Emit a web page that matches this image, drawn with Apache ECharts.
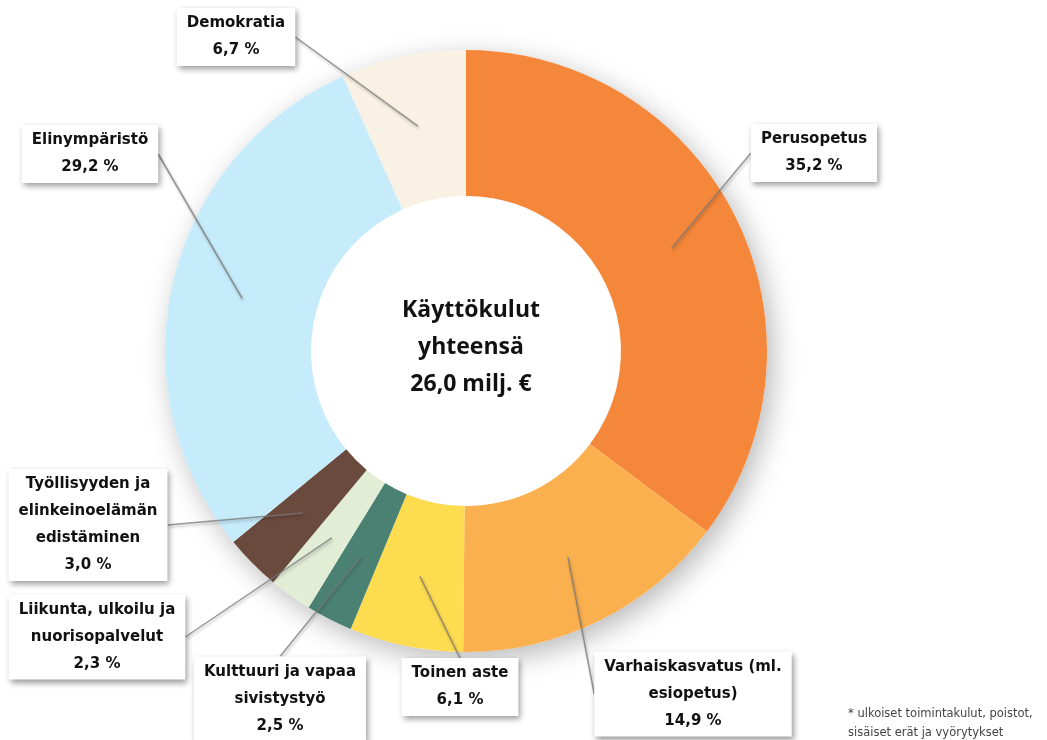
<!DOCTYPE html>
<html>
<head>
<meta charset="utf-8">
<script src="https://cdn.jsdelivr.net/npm/echarts@6/dist/echarts.min.js"></script>
<style>
  html, body { margin: 0; padding: 0; background: #fff; }
  #chart { width: 1047px; height: 740px; }
</style>
</head>
<body>
<div id="chart"></div>
<script>
var names = [
    'Perusopetus',
    'Varhaiskasvatus (ml.\nesiopetus)',
    'Toinen aste',
    'Kulttuuri ja vapaa\nsivistystyö',
    'Liikunta, ulkoilu ja\nnuorisopalvelut',
    'Työllisyyden ja\nelinkeinoelämän\nedistäminen',
    'Elinympäristö',
    'Demokratia'
];
var values = [35.2, 14.9, 6.1, 2.5, 2.3, 3.0, 29.2, 6.7];
var colors = ['#F4873A', '#FBB04F', '#FDDC50', '#4B8172', '#E2EDD6', '#6B4A3E', '#C6EBFB', '#F9F1E4'];
var centerText = 'Käyttökulut\nyhteensä\n26,0 milj. €';
var footnote = '* ulkoiset toimintakulut, poistot,\nsisäiset erät ja vyörytykset';

// label box centres (px)
var labelPos = [
    [814, 153], [693, 694], [460, 687], [280, 699],
    [97, 637], [88, 525], [90, 154], [236, 37]
];

var data = [];
var labelData = [];
for (var i = 0; i < names.length; i++) {
    data.push({ name: names[i], value: values[i], itemStyle: { color: colors[i] } });
    labelData.push({ name: names[i], value: values[i] });
}

var chart = echarts.init(document.getElementById('chart'));

var option = {
    animation: false,
    title: {
        text: centerText,
        left: 466,
        top: 287,
        textAlign: 'center',
        textStyle: {
            fontFamily: 'Open Sans',
            fontWeight: 'bold',
            fontSize: 23,
            lineHeight: 37,
            color: '#111'
        }
    },
    graphic: [{
        type: 'text',
        left: 848,
        top: 705,
        style: {
            text: footnote,
            font: '11.5px "DejaVu Sans"',
            lineHeight: 19,
            fill: '#444'
        }
    }],
    series: [
        {
            // soft shadow behind the ring (full disc so the hole stays clean)
            type: 'pie',
            silent: true,
            center: [466, 351],
            radius: [0, 301],
            z: 1,
            label: { show: false },
            labelLine: { show: false },
            itemStyle: {
                color: '#fff',
                shadowBlur: 28,
                shadowColor: 'rgba(0,0,0,0.28)',
                shadowOffsetX: 6,
                shadowOffsetY: 8
            },
            data: [{ value: 1 }]
        },
        {
            type: 'pie',
            center: [466, 351],
            radius: [155, 301],
            startAngle: 90,
            clockwise: true,
            z: 2,
            label: { show: false },
            labelLine: { show: false },
            emphasis: { disabled: true },
            data: data
        },
        {
            // invisible copy so callouts start in the middle of the ring
            type: 'pie',
            center: [466, 351],
            radius: [0, 230],
            startAngle: 90,
            clockwise: true,
            z: 3,
            silent: true,
            itemStyle: { color: 'rgba(0,0,0,0)' },
            label: {
                show: true,
                position: 'outside',
                formatter: function (p) {
                    return p.name + '\n' + p.value.toFixed(1).replace('.', ',') + ' %';
                },
                fontFamily: 'DejaVu Sans',
                fontWeight: 'bold',
                fontSize: 15,
                lineHeight: 27,
                color: '#111',
                align: 'center',
                backgroundColor: '#fff',
                padding: [2, 10, 2, 10],
                shadowBlur: 6,
                shadowColor: 'rgba(0,0,0,0.4)',
                shadowOffsetX: 2,
                shadowOffsetY: 3
            },
            labelLine: {
                show: true,
                length: 1,
                length2: 0,
                smooth: false,
                lineStyle: {
                    color: 'rgba(120,120,120,0.75)',
                    width: 1.5,
                    shadowBlur: 3,
                    shadowColor: 'rgba(0,0,0,0.35)',
                    shadowOffsetX: 1,
                    shadowOffsetY: 2
                }
            },
            labelLayout: function (params) {
                var p = labelPos[params.dataIndex];
                return {
                    x: p[0],
                    y: p[1],
                    align: 'center',
                    verticalAlign: 'middle',
                    hideOverlap: false
                };
            },
            emphasis: { disabled: true },
            data: labelData
        }
    ]
};

chart.setOption(option);
</script>
</body>
</html>
